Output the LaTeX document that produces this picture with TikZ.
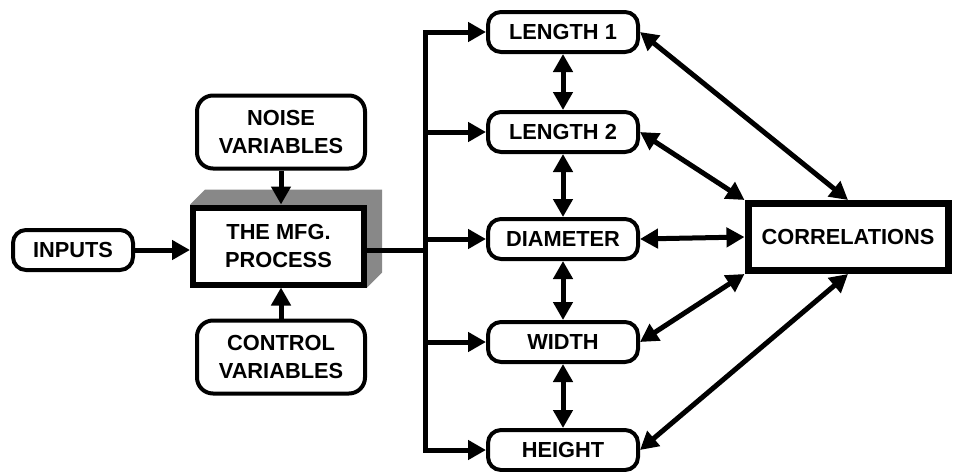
\documentclass[tikz,border=0pt]{standalone}
\usepackage{fontspec}
\setmainfont{Liberation Sans}
\usetikzlibrary{arrows.meta,backgrounds,calc}
\definecolor{shadowgray}{HTML}{888888}
\begin{document}
\begin{tikzpicture}[x=1pt,y=-1pt,
  font=\fontsize{21.8}{28.5}\selectfont\bfseries,
  >={Triangle[length=18pt,width=19pt]},
  rbox/.style={draw,line width=4pt,rounded corners=13pt,fill=white,align=center,inner sep=0pt},
  vbox/.style={rbox,rounded corners=16pt,minimum width=168pt,minimum height=73pt},
  obox/.style={rbox,minimum width=150pt,minimum height=40pt},
  conn/.style={line width=5pt,line join=miter}]
\useasboundingbox (0,0) rectangle (955,471);

\node[rbox,minimum width=120pt,minimum height=40pt] (in) at (73,250) {INPUTS};
\node[vbox] (noise) at (281,132) {NOISE\\VARIABLES};
\node[vbox] (ctrl) at (281,357) {CONTROL\\VARIABLES};
\node[draw,line width=6pt,fill=white,align=center,minimum width=171pt,minimum height=77pt] (mfg) at (278.5,246) {THE MFG.\\PROCESS};
\begin{scope}[on background layer]
  \fill[shadowgray] (mfg.north west) -- ++(15,-15) -- ($(mfg.north east)+(15,-15)$) -- ($(mfg.south east)+(15,-15)$) -- (mfg.south east) -- cycle;
\end{scope}

\node[obox] (l1) at (563,32) {LENGTH 1};
\node[obox] (l2) at (563,132) {LENGTH 2};
\node[obox] (dia) at (563,239) {DIAMETER};
\node[obox] (wid) at (563,342) {WIDTH};
\node[obox] (hei) at (563,450) {HEIGHT};
\node[draw,line width=7pt,fill=white,minimum width=200pt,minimum height=67pt,inner sep=0pt] (cor) at (848,237) {CORRELATIONS};

\coordinate (t) at (425,250);

\draw[conn,->] (in.east) -- (mfg.west |- in.east);
\draw[conn,->] (noise.south) -- (mfg.north -| noise.south);
\draw[conn,->] (ctrl.north) -- (mfg.south -| ctrl.north);
\draw[conn] (mfg.east |- t) -- (t);
\draw[conn,->] (t) |- (l1.west);
\draw[conn,->] (t) |- (l2.west);
\draw[conn,->] (t) |- (dia.west);
\draw[conn,->] (t) |- (wid.west);
\draw[conn,->] (t) |- (hei.west);

\draw[conn,<->] (l1.south) -- (l2.north);
\draw[conn,<->] (l2.south) -- (dia.north);
\draw[conn,<->] (dia.south) -- (wid.north);
\draw[conn,<->] (wid.south) -- (hei.north);

\draw[conn,<->] (l1.east) -- (cor.north);
\draw[conn,<->] (l2.east) -- (cor.north west);
\draw[conn,<->] (dia.east) -- (cor.west);
\draw[conn,<->] (wid.east) -- (cor.south west);
\draw[conn,<->] (hei.east) -- (cor.south);
\end{tikzpicture}
\end{document}
